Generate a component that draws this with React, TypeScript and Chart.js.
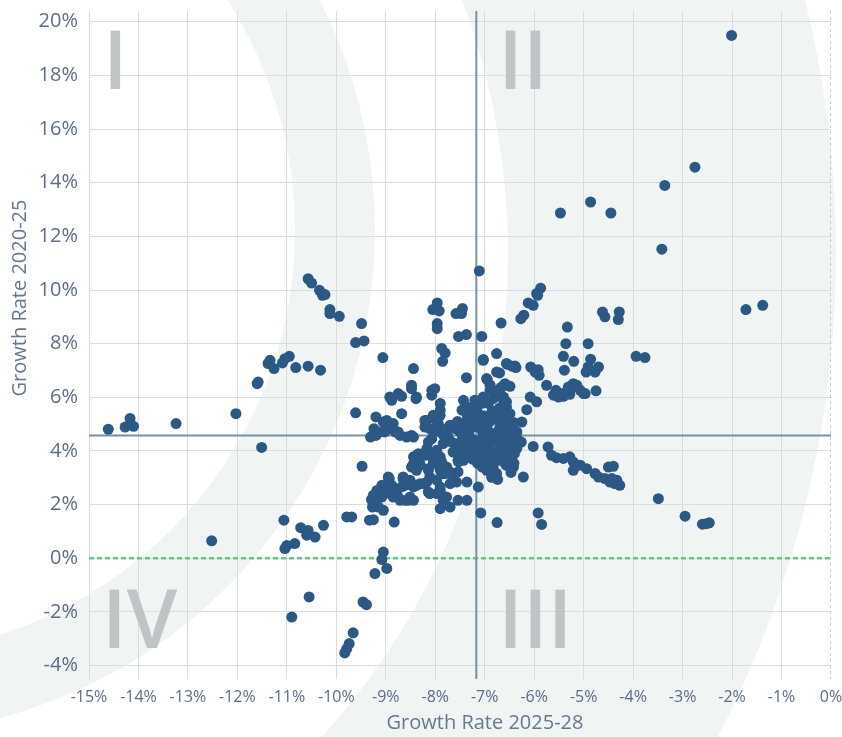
import React, { useEffect, useRef } from 'react';
import { Chart, registerables } from 'chart.js';

Chart.register(...registerables);

type P = [number, number]; // [growth 2025-28, growth 2020-25] in %

const leftWing: P[] = [
  [-14.61, 4.81], [-14.27, 4.89], [-14.17, 5.21], [-14.1, 4.92], [-13.24, 5.02], [-12.03, 5.39], [-11.51, 4.13], [-12.52, 0.65],
  [-11.34, 7.38], [-11.38, 7.26], [-11.26, 7.07], [-11.09, 7.28], [-11.04, 7.44], [-10.95, 7.53], [-10.82, 7.11], [-10.57, 7.16],
  [-10.32, 7.01], [-11.58, 6.57], [-11.6, 6.51],
  [-10.57, 10.42], [-10.5, 10.26], [-10.34, 9.99], [-10.28, 9.8], [-10.23, 9.83], [-10.13, 9.27], [-10.13, 9.12], [-9.94, 9.02],
  [-9.49, 8.75], [-9.61, 8.04], [-9.44, 8.1], [-9.06, 7.48],
];

const lowerLeft: P[] = [
  [-11.06, 1.42], [-11.04, 0.36], [-11.0, 0.48], [-10.84, 0.55], [-10.72, 1.14], [-10.57, 1.04], [-10.6, 0.86], [-10.43, 0.79],
  [-10.26, 1.23], [-10.55, -1.44], [-10.9, -2.19],
  [-9.79, 1.54], [-9.69, 1.54], [-9.66, -2.78], [-9.74, -3.18], [-9.79, -3.37], [-9.83, -3.53], [-9.46, -1.63], [-9.39, -1.73],
  [-9.22, -0.57], [-9.05, 0.23], [-9.08, -0.05], [-8.98, -0.38], [-9.33, 1.42], [-9.25, 1.44], [-8.83, 1.35], [-9.48, 3.43],
];

const upperRight: P[] = [
  [-2.01, 19.49], [-2.75, 14.58], [-3.36, 13.9], [-4.86, 13.28], [-5.47, 12.87], [-4.45, 12.87], [-3.42, 11.52], [-7.11, 10.71],
  [-1.72, 9.27], [-1.38, 9.43],
  [-5.87, 10.07], [-5.95, 9.87], [-5.93, 9.8], [-6.12, 9.52], [-6.02, 9.43], [-6.21, 9.06], [-6.27, 8.93], [-6.67, 8.77], [-5.33, 8.62],
  [-4.62, 9.18], [-4.57, 9.0], [-4.28, 9.18], [-4.3, 8.9],
  [-5.36, 8.0], [-4.91, 8.0], [-5.41, 7.53], [-5.2, 7.34], [-4.86, 7.42], [-3.94, 7.53], [-3.76, 7.48],
];

const upperCenter: P[] = [
  [-7.96, 9.52], [-8.05, 9.27], [-7.92, 9.22], [-7.58, 9.12], [-7.45, 9.31], [-7.47, 9.12], [-7.96, 8.75], [-7.96, 8.56],
  [-7.53, 8.27], [-7.37, 8.34], [-7.06, 8.27], [-7.87, 7.82], [-7.8, 7.65], [-7.85, 7.34], [-7.03, 7.41], [-6.76, 7.63],
  [-6.54, 7.23], [-6.39, 7.17], [-6.07, 7.13], [-5.92, 7.03],
  [-8.44, 7.07], [-8.48, 6.45], [-8.48, 6.32], [-8.75, 6.14], [-8.92, 6.01], [-8.07, 6.26], [-8.01, 6.32], [-8.38, 6.01],
  [-7.37, 6.73], [-6.96, 6.7], [-8.88, 5.89], [-8.68, 6.04], [-8.39, 5.95], [-8.07, 6.08], [-7.9, 5.77], [-9.61, 5.42],
];

const rightUpperArm: P[] = [
  [-6.89, 6.26], [-6.79, 6.14], [-6.66, 6.38], [-6.49, 6.41], [-6.62, 6.01], [-6.56, 5.83], [-6.08, 6.01], [-5.95, 5.83],
  [-6.15, 5.54], [-6.25, 5.08], [-6.35, 4.71], [-6.42, 4.52],
  [-5.98, 6.94], [-5.9, 6.82], [-5.75, 6.45], [-5.56, 6.26], [-5.61, 6.08], [-5.51, 6.01], [-5.38, 6.16], [-5.31, 6.38],
  [-5.21, 6.51], [-5.14, 6.45], [-5.07, 6.26], [-4.97, 6.14], [-5.28, 6.11], [-4.75, 6.24], [-5.48, 6.14], [-5.34, 6.2],
  [-5.24, 6.38], [-5.0, 6.14], [-5.41, 6.04],
  [-4.91, 7.13], [-4.95, 6.94], [-4.77, 6.94], [-4.7, 7.13],
  [-6.56, 7.26], [-6.45, 7.16], [-6.37, 7.11], [-6.7, 6.91], [-6.95, 6.66], [-7.03, 7.38], [-5.39, 7.01], [-6.76, 6.94],
];

const rightLowerArm: P[] = [
  [-6.02, 4.17], [-5.72, 4.15], [-5.65, 3.84], [-5.55, 3.75], [-5.41, 3.72], [-5.28, 3.78], [-5.21, 3.59], [-5.07, 3.47],
  [-4.94, 3.34], [-4.77, 3.16], [-4.5, 3.4], [-6.22, 3.03], [-5.21, 3.28], [-4.4, 3.43], [-4.7, 3.03], [-4.57, 2.97],
  [-4.47, 2.84], [-4.37, 2.78], [-4.27, 2.72], [-4.43, 2.97], [-4.33, 2.91],
  [-3.49, 2.22], [-2.95, 1.57], [-2.6, 1.27], [-2.52, 1.29], [-2.46, 1.32], [-5.92, 1.69], [-5.85, 1.26], [-7.08, 1.69], [-6.75, 1.33],
];

const coreUpper: P[] = [
  [-7.43, 5.89], [-7.36, 5.64], [-7.46, 5.52], [-7.3, 5.52], [-7.2, 5.89], [-7.16, 5.58], [-7.03, 6.01], [-6.93, 5.77],
  [-6.83, 5.95], [-6.79, 5.27], [-6.62, 5.89], [-6.56, 5.64], [-6.49, 5.39], [-6.62, 5.39], [-6.52, 5.21], [-6.69, 6.32],
  [-6.59, 6.51], [-6.89, 6.45], [-7.23, 5.52], [-7.16, 5.83], [-7.06, 5.77],
  [-7.9, 5.52], [-7.9, 5.33], [-7.97, 5.14], [-8.04, 5.33], [-8.17, 5.14], [-8.21, 4.89], [-8.11, 4.83], [-8.01, 4.77],
  [-7.9, 4.71], [-7.77, 4.83], [-7.67, 4.89], [-7.83, 4.58], [-7.43, 5.02], [-7.36, 4.89], [-7.33, 4.71], [-7.3, 4.52],
  [-7.23, 4.89], [-7.13, 5.02], [-7.06, 4.77], [-7.03, 4.52], [-6.93, 4.71], [-6.83, 4.65], [-6.76, 4.4], [-6.69, 4.52],
  [-6.59, 4.4], [-6.49, 4.27], [-6.42, 4.15], [-6.36, 4.52], [-6.26, 4.33],
  [-8.21, 5.14], [-8.07, 4.46], [-7.94, 5.02], [-7.87, 4.77], [-7.7, 4.96], [-7.6, 4.83], [-7.74, 4.52], [-7.84, 4.27],
  [-7.67, 4.33], [-7.57, 4.27], [-7.4, 4.25], [-7.45, 4.45], [-7.2, 4.4], [-7.1, 4.3], [-7.0, 4.2], [-6.85, 4.35],
  [-6.95, 4.95], [-6.7, 4.85], [-6.55, 4.7], [-6.55, 4.2],
  [-7.0, 5.3], [-6.9, 5.1], [-6.7, 5.05], [-6.6, 5.0], [-6.85, 5.5], [-6.7, 5.6], [-7.1, 5.35], [-7.25, 5.2],
  [-6.45, 4.9], [-6.4, 5.05], [-7.35, 5.3], [-7.5, 4.7], [-7.55, 5.1], [-7.05, 4.95], [-6.8, 4.55],
];

const coreWest: P[] = [
  [-9.05, 5.08], [-8.95, 4.83], [-8.81, 4.71], [-8.71, 4.58], [-8.58, 4.52], [-8.48, 4.58], [-8.68, 5.39],
  [-8.98, 5.14], [-8.85, 5.02], [-9.02, 4.71], [-8.75, 4.71], [-8.44, 4.52], [-9.2, 5.27], [-9.24, 4.83], [-9.31, 4.52],
  [-9.2, 4.58], [-9.22, 4.71], [-9.12, 4.71],
];

const coreLower: P[] = [
  [-8.44, 3.78], [-8.34, 3.9], [-8.31, 3.47], [-8.38, 3.28], [-8.14, 4.33], [-8.17, 4.09], [-8.11, 3.9], [-8.04, 3.65],
  [-7.97, 3.53], [-7.9, 3.4], [-7.84, 3.16], [-7.74, 3.28], [-7.64, 3.16], [-7.54, 3.22], [-7.43, 3.78], [-7.36, 3.9],
  [-7.3, 4.03], [-7.23, 4.15], [-7.16, 4.03], [-7.03, 4.03], [-6.96, 3.78], [-6.89, 3.53], [-6.83, 3.4], [-6.76, 3.16],
  [-6.69, 3.65], [-6.62, 3.78], [-6.56, 3.96], [-6.45, 3.65], [-6.42, 3.4],
  [-7.97, 4.03], [-7.9, 3.78], [-7.87, 3.59], [-7.77, 3.4], [-7.7, 3.16], [-8.14, 3.34], [-8.24, 3.9], [-8.11, 3.03],
  [-7.5, 3.96], [-7.43, 3.65], [-7.54, 3.65], [-8.95, 3.03],
  [-6.9, 4.05], [-6.7, 4.1], [-6.65, 3.9], [-7.25, 3.7], [-7.15, 3.55], [-7.05, 3.4], [-6.86, 3.02], [-6.74, 2.94],
  [-6.47, 3.2], [-6.57, 3.47], [-6.41, 3.54], [-6.5, 3.8], [-6.4, 3.9],
  [-7.53, 3.59], [-7.64, 3.96], [-7.33, 3.96], [-7.1, 3.9], [-6.96, 3.28],
  [-7.2, 3.85], [-6.8, 3.85], [-6.6, 4.25], [-6.35, 4.1], [-7.0, 3.6], [-6.78, 3.65], [-6.6, 3.6],
];

const lowerCluster: P[] = [
  [-8.51, 2.91], [-8.65, 3.03], [-8.68, 2.66], [-8.78, 2.53], [-8.85, 2.28], [-8.71, 2.16], [-8.55, 2.16], [-8.44, 2.66],
  [-8.31, 2.78], [-8.17, 2.84], [-8.11, 2.41], [-7.97, 2.41], [-7.9, 2.66], [-7.84, 2.16], [-7.77, 2.28], [-7.9, 1.85],
  [-7.7, 1.91], [-7.54, 2.16], [-7.36, 2.16], [-7.57, 2.84], [-7.36, 2.84], [-7.13, 2.66],
  [-8.93, 2.97], [-8.98, 2.78], [-9.08, 2.72], [-9.18, 2.53], [-9.25, 2.35], [-9.29, 2.19], [-9.22, 2.1], [-9.08, 2.28],
  [-9.05, 2.47], [-9.15, 1.91], [-9.05, 1.79], [-8.85, 2.41], [-8.75, 2.28], [-8.65, 2.97], [-8.61, 2.72], [-8.51, 2.28],
  [-8.44, 2.16], [-8.38, 2.72], [-8.24, 2.78], [-8.14, 2.47], [-8.14, 3.28], [-8.31, 3.53], [-8.44, 3.53], [-8.21, 3.84],
  [-7.97, 3.84], [-7.9, 3.65], [-7.9, 3.28], [-7.97, 2.91], [-7.9, 2.53], [-7.84, 2.28], [-7.7, 2.78], [-7.8, 3.16],
  [-8.04, 3.53], [-8.88, 2.72], [-9.02, 2.41], [-9.27, 1.91], [-9.18, 1.98], [-8.61, 2.16], [-8.48, 3.4], [-8.41, 3.59],
];

const X_MIN = -15;
const X_MAX = 0;
const Y_MIN = -4.5;
const Y_MAX = 20.4;
const X_STEP = 1;
const Y_STEP = 2;
const MEDIAN_X = -7.17;
const MEDIAN_Y = 4.58;
const QUADRANT_LABELS = ['I', 'II', 'III', 'IV'];
const X_TITLE = 'Growth Rate 2025-28';
const Y_TITLE = 'Growth Rate 2020-25';

const FONT = "'Open Sans', 'Noto Sans', sans-serif";
const POINT_COLOR = '#2c5885';
const TEXT_COLOR = '#5d6d88';
const TITLE_COLOR = '#66788f';
const GRID_COLOR = '#d9dce0';
const SHADE = '#f0f4f3';

const allPoints: P[] = [
  ...leftWing, ...lowerLeft, ...upperRight, ...upperCenter, ...rightUpperArm, ...rightLowerArm,
  ...coreWest, ...coreUpper, ...coreLower, ...lowerCluster,
];

function ring(ctx: CanvasRenderingContext2D, cx: number, cy: number, r1: number, r2: number) {
  ctx.beginPath();
  ctx.arc(cx, cy, r2, 0, Math.PI * 2, false);
  ctx.arc(cx, cy, r1, 0, Math.PI * 2, true);
  ctx.closePath();
  ctx.fill();
}

const watermark = {
  id: 'watermark',
  beforeDraw(chart: any) {
    const { ctx, width, height } = chart;
    ctx.save();
    ctx.fillStyle = '#ffffff';
    ctx.fillRect(0, 0, width, height);
    ctx.fillStyle = SHADE;
    ring(ctx, -130, 230, 425, 505);
    ring(ctx, -214, 253, 722, 1050);
    ctx.restore();
  },
};

const refLines = {
  id: 'refLines',
  beforeDatasetsDraw(chart: any) {
    const { ctx, chartArea: a, scales } = chart;
    const xs = scales.x;
    const ys = scales.y;
    const mx = xs.getPixelForValue(MEDIAN_X);
    const my = ys.getPixelForValue(MEDIAN_Y);
    const zx = xs.getPixelForValue(0);
    const zy = ys.getPixelForValue(0);
    ctx.save();
    // quadrant labels
    ctx.fillStyle = '#c1c4c7';
    ctx.font = `600 81px ${FONT}`;
    ctx.textAlign = 'left';
    ctx.textBaseline = 'alphabetic';
    ctx.fillText(QUADRANT_LABELS[0], a.left + 14, a.top + 78);
    ctx.fillText(QUADRANT_LABELS[1], mx + 22, a.top + 78);
    ctx.fillText(QUADRANT_LABELS[2], mx + 22, a.bottom - 31);
    ctx.fillText(QUADRANT_LABELS[3], a.left + 13, a.bottom - 31);

    // x = 0 dashed line
    ctx.strokeStyle = '#c9cbce';
    ctx.lineWidth = 1;
    ctx.setLineDash([3, 3]);
    ctx.beginPath();
    ctx.moveTo(zx - 0.5, a.top);
    ctx.lineTo(zx - 0.5, a.bottom);
    ctx.stroke();

    // y = 0 green dashed
    ctx.strokeStyle = '#68c589';
    ctx.lineWidth = 2.5;
    ctx.setLineDash([5, 3]);
    ctx.beginPath();
    ctx.moveTo(a.left, zy);
    ctx.lineTo(a.right, zy);
    ctx.stroke();

    // median lines
    ctx.setLineDash([]);
    ctx.strokeStyle = '#7890a8';
    ctx.lineWidth = 2;
    ctx.beginPath();
    ctx.moveTo(a.left, my);
    ctx.lineTo(a.right, my);
    ctx.moveTo(mx, a.top);
    ctx.lineTo(mx, a.bottom);
    ctx.stroke();
    ctx.restore();
  },
};

const axisTitles = {
  id: 'axisTitles',
  afterDraw(chart: any) {
    const { ctx, chartArea: a } = chart;
    ctx.save();
    ctx.fillStyle = TITLE_COLOR;
    ctx.font = `20px ${FONT}`;
    ctx.textAlign = 'center';
    ctx.textBaseline = 'middle';
    ctx.fillText(X_TITLE, (a.left + a.right) / 2 + 25, 723);
    ctx.translate(20, (a.top + a.bottom) / 2 - 47);
    ctx.rotate(-Math.PI / 2);
    ctx.fillText(Y_TITLE, 0, 0);
    ctx.restore();
  },
};

export default function App() {
  const ref = useRef<HTMLCanvasElement | null>(null);

  useEffect(() => {
    if (!ref.current) return;
    const chart = new Chart(ref.current, {
      type: 'scatter',
      data: {
        datasets: [
          {
            data: allPoints.map(([x, y]) => ({ x, y })),
            backgroundColor: POINT_COLOR,
            borderWidth: 0,
            pointRadius: 5.5,
            pointHoverRadius: 5.5,
          },
        ],
      },
      options: {
        animation: false,
        responsive: false,
        devicePixelRatio: 1,
        layout: { padding: { top: 11, right: 11, left: 0, bottom: 0 } },
        plugins: {
          legend: { display: false },
          tooltip: { enabled: false },
        },
        scales: {
          x: {
            type: 'linear',
            min: X_MIN,
            max: X_MAX,
            border: { display: false },
            grid: {
              color: (c: any) => (c.tick && c.tick.value === 0 ? 'rgba(0,0,0,0)' : GRID_COLOR),
              lineWidth: 1,
              drawTicks: false,
            },
            ticks: {
              stepSize: X_STEP,
              autoSkip: false,
              maxRotation: 0,
              padding: 9,
              color: TEXT_COLOR,
              font: { family: FONT, size: 16 },
              callback: (v: any) => `${v}%`,
            },
            afterFit: (s: any) => {
              s.height = 58;
              s.paddingLeft = 0;
              s.paddingRight = 0;
            },
          },
          y: {
            type: 'linear',
            min: Y_MIN,
            max: Y_MAX,
            border: { display: false },
            grid: { color: GRID_COLOR, lineWidth: 1, drawTicks: false },
            ticks: {
              stepSize: Y_STEP,
              includeBounds: false,
              padding: 11,
              color: TEXT_COLOR,
              font: { family: FONT, size: 20 },
              callback: (v: any) => `${v}%`,
            },
            afterFit: (s: any) => {
              s.width = 89;
              s.paddingTop = 0;
              s.paddingBottom = 0;
            },
          },
        },
      },
      plugins: [watermark, refLines, axisTitles],
    });
    return () => chart.destroy();
  }, []);

  return (
    <div style={{ position: 'absolute', left: 0, top: 0, width: 842, height: 737 }}>
      <canvas ref={ref} width={842} height={737} style={{ display: 'block', width: 842, height: 737 }} />
    </div>
  );
}
